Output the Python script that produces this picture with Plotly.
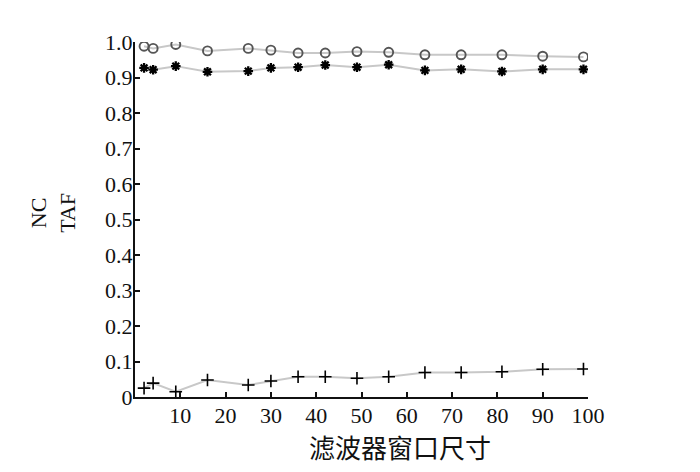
import plotly.graph_objects as go

window_size = [2, 4, 9, 16, 25, 30, 36, 42, 49, 56, 64, 72, 81, 90, 99]
series_circle = [0.988, 0.982, 0.993, 0.975, 0.982, 0.977, 0.969, 0.969, 0.973, 0.971, 0.964, 0.964, 0.964, 0.960, 0.958]
series_star = [0.927, 0.922, 0.932, 0.916, 0.918, 0.927, 0.929, 0.935, 0.929, 0.936, 0.920, 0.923, 0.917, 0.923, 0.923]
series_plus = [0.025, 0.039, 0.015, 0.048, 0.034, 0.045, 0.057, 0.057, 0.053, 0.057, 0.069, 0.069, 0.071, 0.078, 0.079]

x_tickvals = [10, 20, 30, 40, 50, 60, 70, 80, 90, 100]
y_tickvals = [0, 0.1, 0.2, 0.3, 0.4, 0.5, 0.6, 0.7, 0.8, 0.9, 1.0]
y_ticktext = ["0", "0.1", "0.2", "0.3", "0.4", "0.5", "0.6", "0.7", "0.8", "0.9", "1.0"]

line_style = dict(color="#c8c8c8", width=2)

fig = go.Figure()
fig.add_trace(go.Scatter(x=window_size, y=series_circle, mode="lines+markers", line=line_style,
                         marker=dict(symbol="circle-open", size=9, color="#555555", line=dict(width=1.9, color="#555555"))))
fig.add_trace(go.Scatter(x=window_size, y=series_star, mode="lines+markers", line=line_style,
                         marker=dict(symbol="asterisk-open", size=8, color="#000000", line=dict(width=2.3, color="#000000"))))
fig.add_trace(go.Scatter(x=window_size, y=series_plus, mode="lines+markers", line=line_style,
                         marker=dict(symbol="cross-thin-open", size=9, color="#000000", line=dict(width=1.6, color="#000000"))))

font_serif = "Liberation Serif, Times New Roman, serif"

fig.update_layout(
    width=700, height=472,
    margin=dict(l=126.5, r=119.5, t=34.3, b=83.3),
    paper_bgcolor="white", plot_bgcolor="white",
    showlegend=False,
    font=dict(family=font_serif, size=20, color="#111111"),
    xaxis=dict(range=[0, 100], tickvals=x_tickvals, ticks="inside", ticklen=5, tickwidth=1.5,
               tickcolor="#111111", showline=True, linecolor="#111111", linewidth=2,
               showgrid=False, zeroline=False, tickfont=dict(family=font_serif, size=22),
               ticklabelstandoff=-2),
    yaxis=dict(range=[0, 1.0], tickvals=y_tickvals, ticktext=y_ticktext, ticks="inside", ticklen=5,
               tickwidth=1.5, tickcolor="#111111", showline=True, linecolor="#111111", linewidth=2,
               showgrid=False, zeroline=False, tickfont=dict(family=font_serif, size=22),
               ticklabelstandoff=-4),
    annotations=[
        dict(text="滤波器窗口尺寸", xref="paper", yref="paper", x=0.585, y=-0.14, yanchor="middle",
             xanchor="center", showarrow=False,
             font=dict(family="Noto Sans CJK SC", size=26, color="#111111")),
        dict(text="NC<br>TAF", xref="paper", yref="paper", x=-0.18, y=0.52, xanchor="center",
             yanchor="middle", textangle=-90, showarrow=False,
             font=dict(family=font_serif, size=22, color="#111111")),
    ],
)

fig.write_html("out.html")
